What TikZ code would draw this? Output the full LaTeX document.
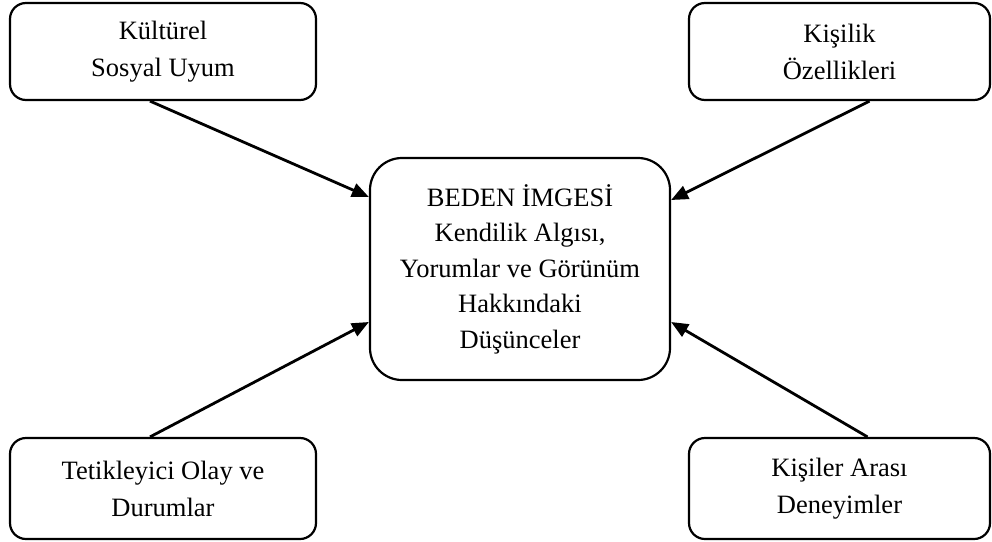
\documentclass[tikz,border=0pt]{standalone}
\usepackage{fontspec}
\setmainfont{Liberation Serif}
\usetikzlibrary{arrows.meta,calc}
\begin{document}
\begin{tikzpicture}[x=1pt,y=-1pt,
  outerbox/.style={draw=black,line width=2.2pt,rounded corners=16pt,align=center,
    font=\fontsize{26.5}{37}\selectfont,inner sep=0pt},
  centerbox/.style={draw=black,line width=2.2pt,rounded corners=32pt,align=center,
    font=\fontsize{26.5}{35.5}\selectfont,inner sep=0pt},
  conn/.style={line width=2.8pt,-{Triangle[length=17pt,width=14pt]}}]
\useasboundingbox (0,0) rectangle (992,541);
\node[outerbox,minimum width=306pt,minimum height=97pt] (tl) at (163,51.5) {Kültürel\\Sosyal Uyum};
\node[outerbox,minimum width=301pt,minimum height=97pt] (tr) at (839.5,51.5) {Kişilik\\Özellikleri};
\node[outerbox,minimum width=306pt,minimum height=101pt] (bl) at (163,488.5) {Tetikleyici Olay ve\\Durumlar};
\node[outerbox,minimum width=301pt,minimum height=101pt] (br) at (839.5,488.5) {Kişiler Arası\\Deneyimler};
\node[centerbox,minimum width=300pt,minimum height=222pt] (c) at (520,269) {BEDEN İMGESİ\\Kendilik Algısı,\\Yorumlar ve Görünüm\\Hakkındaki\\Düşünceler};
\draw[conn] ($(tl.south)+(-13,0)$) -- ($(c.west)+(0,-72)$);
\draw[conn] ($(tr.south)+(30,0)$) -- ($(c.east)+(0,-69)$);
\draw[conn] ($(bl.north)+(-13,0)$) -- ($(c.west)+(0,53)$);
\draw[conn] ($(br.north)+(28,0)$) -- ($(c.east)+(0,53)$);
\end{tikzpicture}
\end{document}
